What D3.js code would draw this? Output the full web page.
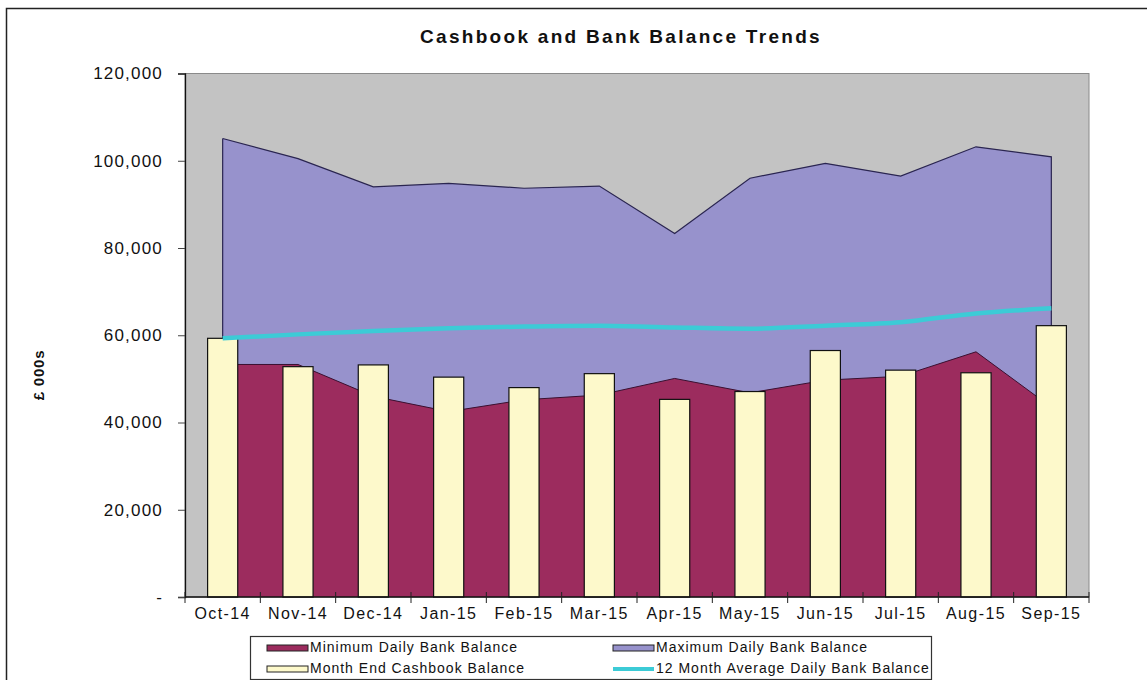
<!DOCTYPE html>
<html>
<head>
<meta charset="utf-8">
<script src="https://cdn.jsdelivr.net/npm/d3@7"></script>
<style>
  body { margin: 0; background: #fff; }
  text { font-family: "Liberation Sans", Arial, sans-serif; fill: #111; }
</style>
</head>
<body>
<div id="chart"></div>
<script>
const width = 1147;
const height = 680;

// data (£000s)
const months = ["Oct-14", "Nov-14", "Dec-14", "Jan-15", "Feb-15", "Mar-15",
  "Apr-15", "May-15", "Jun-15", "Jul-15", "Aug-15", "Sep-15"];
const minDaily = [53300, 53300, 46000, 42500, 45200, 46300, 50100, 46800, 49700, 50600, 56200, 43500];
const maxDaily = [105100, 100500, 94000, 94800, 93700, 94200, 83300, 96000, 99400, 96500, 103200, 100900];
const cashbook = [59300, 52800, 53200, 50400, 48000, 51200, 45300, 47100, 56500, 52000, 51400, 62200];
const avg12 = [59300, 60200, 61000, 61600, 62000, 62200, 61800, 61500, 62200, 63000, 65000, 66200];
const yTicks = [0, 20000, 40000, 60000, 80000, 100000, 120000];

const margin = { top: 73.5, right: 58, bottom: 83, left: 185 };

const colors = {
  plot: "#c3c3c3",
  max: "#9792cc",
  min: "#9c2c5e",
  cash: "#fdf9cb",
  avg: "#3ccbd6",
};

const svg = d3
  .select("#chart")
  .append("svg")
  .attr("width", width)
  .attr("height", height);

// outer frame (runs off the right and bottom edges in the reference)
svg
  .append("rect")
  .attr("x", 6.5)
  .attr("y", 8.5)
  .attr("width", width + 20)
  .attr("height", height + 20)
  .attr("fill", "none")
  .attr("stroke", "#222")
  .attr("stroke-width", 1.5);

let x = d3
  .scaleBand()
  .domain(months)
  .range([margin.left, width - margin.right])
  .padding(0);

let y = d3
  .scaleLinear()
  .domain([0, 120000])
  .range([height - margin.bottom, margin.top]);

const cx = (i) => x(months[i]) + x.bandwidth() / 2;

// plot area background
svg
  .append("rect")
  .attr("x", x.range()[0])
  .attr("y", y(120000))
  .attr("width", x.range()[1] - x.range()[0])
  .attr("height", y(0) - y(120000))
  .attr("fill", colors.plot)
  .attr("stroke", "#8a8a8a")
  .attr("stroke-width", 1);

// areas: max drawn first, min on top of it
let area = (vals) =>
  d3
    .area()
    .x((d, i) => cx(i))
    .y0(y(0))
    .y1((d) => y(d))(vals);

let topLine = (vals) =>
  d3
    .line()
    .x((d, i) => cx(i))
    .y((d) => y(d))(vals);

svg.append("path").attr("d", area(maxDaily)).attr("fill", colors.max);
svg
  .append("path")
  .attr("d", topLine(maxDaily) + `L${cx(11)},${y(0)}M${cx(0)},${y(0)}L${cx(0)},${y(maxDaily[0])}`)
  .attr("fill", "none")
  .attr("stroke", "#2a2550")
  .attr("stroke-width", 1.2);

svg.append("path").attr("d", area(minDaily)).attr("fill", colors.min);
svg
  .append("path")
  .attr("d", topLine(minDaily))
  .attr("fill", "none")
  .attr("stroke", "#3a1030")
  .attr("stroke-width", 1);

// month end cashbook bars
const barW = x.bandwidth() * 0.4;
svg
  .append("g")
  .selectAll("rect")
  .data(cashbook)
  .join("rect")
  .attr("x", (d, i) => cx(i) - barW / 2)
  .attr("y", (d) => y(d))
  .attr("width", barW)
  .attr("height", (d) => y(0) - y(d))
  .attr("fill", colors.cash)
  .attr("stroke", "#111")
  .attr("stroke-width", 1.2);

// 12 month average line
svg
  .append("path")
  .datum(avg12)
  .attr("fill", "none")
  .attr("stroke", colors.avg)
  .attr("stroke-width", 4.5)
  .attr("stroke-linejoin", "round")
  .attr("d", d3.line().x((d, i) => cx(i)).y((d) => y(d)).curve(d3.curveMonotoneX));

// Y axis
const yAxis = svg
  .append("g")
  .attr("transform", `translate(${margin.left},0)`)
  .call(
    d3
      .axisLeft(y)
      .tickValues(yTicks)
      .tickSize(7)
      .tickPadding(15)
      .tickFormat((d) => (d === 0 ? "-" : d3.format(",")(d)))
  );
yAxis.select(".domain").attr("stroke", "#111").attr("stroke-width", 1.3);
yAxis.selectAll(".tick line").attr("stroke", "#444");
yAxis
  .selectAll(".tick text")
  .style("font-size", "17px")
  .style("letter-spacing", "1.2px")
  .attr("fill", (d) => (d === 0 ? "#999" : "#222"));

// X axis: labels at band centres, tick marks at band edges
svg
  .append("line")
  .attr("x1", x.range()[0])
  .attr("x2", x.range()[1])
  .attr("y1", y(0))
  .attr("y2", y(0))
  .attr("stroke", "#111")
  .attr("stroke-width", 1.3);

const edges = months.map((m) => x(m)).concat([x.range()[1]]);
svg
  .append("g")
  .selectAll("line")
  .data(edges)
  .join("line")
  .attr("x1", (d) => d)
  .attr("x2", (d) => d)
  .attr("y1", y(0) - 5)
  .attr("y2", y(0) + 6)
  .attr("stroke", "#222");

svg
  .append("g")
  .selectAll("text")
  .data(months)
  .join("text")
  .attr("x", (d) => x(d) + x.bandwidth() / 2)
  .attr("y", y(0) + 22)
  .attr("text-anchor", "middle")
  .style("font-size", "16px")
  .style("letter-spacing", "1.4px")
  .text((d) => d);

// title
svg
  .append("text")
  .attr("x", 621)
  .attr("y", 43)
  .attr("text-anchor", "middle")
  .style("font-size", "19px")
  .style("font-weight", "bold")
  .style("letter-spacing", "2.3px")
  .text("Cashbook and Bank Balance Trends");

// y axis title
svg
  .append("text")
  .attr("transform", "translate(44,375) rotate(-90)")
  .attr("text-anchor", "middle")
  .style("font-size", "15px")
  .style("font-weight", "bold")
  .style("letter-spacing", "0.8px")
  .text("£ 000s");

// legend
const legend = svg.append("g");
legend
  .append("rect")
  .attr("x", 250.5)
  .attr("y", 636.5)
  .attr("width", 681)
  .attr("height", 43)
  .attr("fill", "#fff")
  .attr("stroke", "#333")
  .attr("stroke-width", 1.2);

const legendItems = [
  { label: "Minimum Daily Bank Balance", color: colors.min, kind: "box", lx: 267, ly: 648 },
  { label: "Maximum Daily Bank Balance", color: colors.max, kind: "box", lx: 613, ly: 648 },
  { label: "Month End Cashbook Balance", color: colors.cash, kind: "box", lx: 267, ly: 669 },
  { label: "12 Month Average Daily Bank Balance", color: colors.avg, kind: "line", lx: 613, ly: 669 },
];

for (let item of legendItems) {
  if (item.kind === "box") {
    legend
      .append("rect")
      .attr("x", item.lx)
      .attr("y", item.ly - 3)
      .attr("width", 41)
      .attr("height", 6)
      .attr("fill", item.color)
      .attr("stroke", "#222");
  } else {
    legend
      .append("line")
      .attr("x1", item.lx)
      .attr("x2", item.lx + 41)
      .attr("y1", item.ly)
      .attr("y2", item.ly)
      .attr("stroke", item.color)
      .attr("stroke-width", 4);
  }
  legend
    .append("text")
    .attr("x", item.lx + 43)
    .attr("y", item.ly)
    .attr("dominant-baseline", "middle")
    .style("font-size", "14px")
    .style("letter-spacing", "1px")
    .text(item.label);
}
</script>
</body>
</html>
